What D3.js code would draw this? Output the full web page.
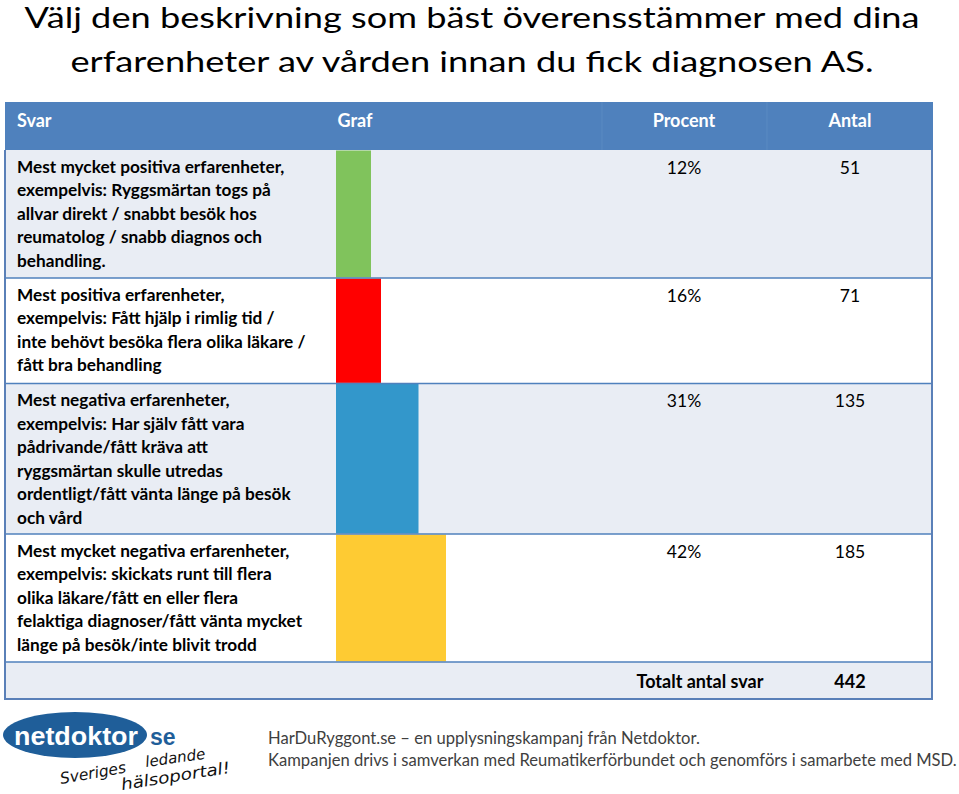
<!DOCTYPE html>
<html>
<head>
<meta charset="utf-8">
<script src="https://cdn.jsdelivr.net/npm/d3@7"></script>
<style>
  html, body { margin: 0; padding: 0; background: #fff; }
  svg { display: block; }
</style>
</head>
<body>
<svg id="chart" width="959" height="794"></svg>
<script>
// ---------- DATA ----------
const titleLines = [
  "Välj den beskrivning som bäst överensstämmer med dina",
  "erfarenheter av vården innan du fick diagnosen AS."
];
const headers = ["Svar", "Graf", "Procent", "Antal"];
const categories = [
  ["Mest mycket positiva erfarenheter,", "exempelvis: Ryggsmärtan togs på", "allvar direkt / snabbt besök hos", "reumatolog / snabb diagnos och", "behandling."],
  ["Mest positiva erfarenheter,", "exempelvis: Fått hjälp i rimlig tid /", "inte behövt besöka flera olika läkare /", "fått bra behandling"],
  ["Mest negativa erfarenheter,", "exempelvis: Har själv fått vara", "pådrivande/fått kräva att", "ryggsmärtan skulle utredas", "ordentligt/fått vänta länge på besök", "och vård"],
  ["Mest mycket negativa erfarenheter,", "exempelvis: skickats runt till flera", "olika läkare/fått en eller flera", "felaktiga diagnoser/fått vänta mycket", "länge på besök/inte blivit trodd"]
];
const percents = [12, 16, 31, 42];
const counts = [51, 71, 135, 185];
const barColors = ["#80C35C", "#FF0000", "#3397CB", "#FECB33"];
const totalLabel = "Totalt antal svar";
const totalCount = 442;
const footerLines = [
  "HarDuRyggont.se – en upplysningskampanj från Netdoktor.",
  "Kampanjen drivs i samverkan med Reumatikerförbundet och genomförs i samarbete med MSD."
];

// ---------- LAYOUT ----------
const svg = d3.select("#chart");
const FONT = "Lato, 'Open Sans', 'Noto Sans', sans-serif";
const tLeft = 5, tRight = 932;
const headTop = 102, headH = 48;
const rowLine = 22.6, rowPad = 15, textLine = 23.5;
const colGraf = 355, colPct = 684, colCnt = 850;
const barLeft = 336;
const headBlue = "#4F81BD";
const lightRow = "#E9EDF4";

// title
const titleWidths = [895, 803];
titleLines.forEach((t, i) => {
  svg.append("text")
    .attr("x", 472).attr("y", 28 + i * 44)
    .attr("text-anchor", "middle")
    .attr("font-family", FONT)
    .attr("font-size", 28.5)
    .attr("textLength", titleWidths[i])
    .attr("lengthAdjust", "spacingAndGlyphs")
    .attr("fill", "#000")
    .text(t);
});

// row geometry from line counts
const rowH = categories.map(l => l.length * rowLine + rowPad);
const rowTops = [];
let y = headTop + headH;
rowH.forEach(h => { rowTops.push(y); y += h; });
const rowsBottom = y;
const totalBottom = 699;

// header
svg.append("rect").attr("x", tLeft).attr("y", headTop).attr("width", tRight - tLeft + 1).attr("height", headH).attr("fill", headBlue);
[602, 767].forEach(x => svg.append("line").attr("x1", x).attr("x2", x).attr("y1", headTop).attr("y2", headTop + headH)
  .attr("stroke", "#5B8AC2").attr("stroke-width", 1));
const hx = [{x: 17, a: "start"}, {x: colGraf, a: "middle"}, {x: colPct, a: "middle"}, {x: colCnt, a: "middle"}];
headers.forEach((h, i) => {
  svg.append("text").attr("x", hx[i].x).attr("y", 127)
    .attr("text-anchor", hx[i].a)
    .attr("font-family", FONT).attr("font-weight", "bold").attr("font-size", 18)
    .attr("fill", "#fff").text(h);
});

// rows backgrounds
categories.forEach((c, i) => {
  svg.append("rect").attr("x", tLeft).attr("y", rowTops[i]).attr("width", tRight - tLeft).attr("height", rowH[i])
    .attr("fill", i % 2 === 0 ? lightRow : "#fff");
});
svg.append("rect").attr("x", tLeft).attr("y", rowsBottom).attr("width", tRight - tLeft).attr("height", totalBottom - rowsBottom)
  .attr("fill", lightRow);

// bars via scale
const x = d3.scaleLinear().domain([-2, 42]).range([barLeft, barLeft + 110]);
svg.append("g").selectAll("rect").data(percents).join("rect")
  .attr("x", x(-2))
  .attr("y", (d, i) => rowTops[i] + 0.5)
  .attr("width", d => x(d) - x(-2))
  .attr("height", (d, i) => rowH[i] - 1)
  .attr("fill", (d, i) => barColors[i]);

// separators
const seps = rowTops.slice(1).concat([rowsBottom]);
seps.forEach(sy => svg.append("line").attr("x1", tLeft).attr("x2", tRight).attr("y1", sy).attr("y2", sy)
  .attr("stroke", "#4F81BD").attr("stroke-width", 1.5));
// outer border of body
svg.append("path")
  .attr("d", `M${tLeft},${headTop + headH} V${totalBottom} H${tRight} V${headTop + headH}`)
  .attr("fill", "none").attr("stroke", "#5A80B8").attr("stroke-width", 2);

// labels
const labelG = svg.append("g").attr("transform", "translate(17,0) scale(1.045,1)");
categories.forEach((lines, i) => {
  lines.forEach((l, j) => {
    labelG.append("text").attr("x", 0).attr("y", rowTops[i] + 23 + j * textLine)
      .attr("font-family", FONT).attr("font-weight", "bold").attr("font-size", 16.5)
      .attr("fill", "#000").text(l);
  });
  svg.append("text").attr("x", colPct).attr("y", rowTops[i] + 24)
    .attr("text-anchor", "middle").attr("font-family", FONT).attr("font-size", 17.5)
    .attr("fill", "#000").text(percents[i] + "%");
  svg.append("text").attr("x", colCnt).attr("y", rowTops[i] + 24)
    .attr("text-anchor", "middle").attr("font-family", FONT).attr("font-size", 17.5)
    .attr("fill", "#000").text(counts[i]);
});

// total row
svg.append("text").attr("x", 700).attr("y", 688).attr("text-anchor", "middle")
  .attr("font-family", FONT).attr("font-weight", "bold").attr("font-size", 18).text(totalLabel);
svg.append("text").attr("x", colCnt).attr("y", 688).attr("text-anchor", "middle")
  .attr("font-family", FONT).attr("font-weight", "bold").attr("font-size", 18).text(totalCount);

// footer text
footerLines.forEach((t, i) => {
  svg.append("text").attr("x", 268).attr("y", 744 + i * 22)
    .attr("font-family", FONT).attr("font-size", 16.6).attr("fill", "#3F3F3F").text(t);
});

// logo
const logo = svg.append("g");
logo.append("ellipse").attr("cx", 75).attr("cy", 735).attr("rx", 72).attr("ry", 23).attr("fill", "#1F5E99");
logo.append("text").attr("x", 14).attr("y", 745).attr("font-family", "'Liberation Sans', Arial, sans-serif")
  .attr("font-weight", "bold").attr("font-size", 25).attr("fill", "#fff")
  .attr("textLength", 124).attr("lengthAdjust", "spacingAndGlyphs").text("netdoktor");
logo.append("circle").attr("cx", 146).attr("cy", 743).attr("r", 2.5).attr("fill", "#fff");
logo.append("text").attr("x", 150).attr("y", 745).attr("font-family", "'Liberation Sans', Arial, sans-serif")
  .attr("font-weight", "bold").attr("font-size", 23).attr("fill", "#1F5E99").text("se");
logo.append("text").attr("transform", "translate(61,784) rotate(-10)")
  .attr("font-family", "'DejaVu Sans', sans-serif").attr("font-style", "italic")
  .attr("font-size", 15.5).attr("fill", "#111").text("Sveriges");
logo.append("text").attr("transform", "translate(146,767) rotate(-8)")
  .attr("font-family", "'DejaVu Sans', sans-serif").attr("font-style", "italic")
  .attr("font-size", 15).attr("fill", "#111").text("ledande");
logo.append("text").attr("transform", "translate(122,790) rotate(-9)")
  .attr("font-family", "'DejaVu Sans', sans-serif").attr("font-style", "italic")
  .attr("font-size", 16).attr("fill", "#111")
  .attr("textLength", 110).attr("lengthAdjust", "spacingAndGlyphs").text("hälsoportal!");
</script>
</body>
</html>
